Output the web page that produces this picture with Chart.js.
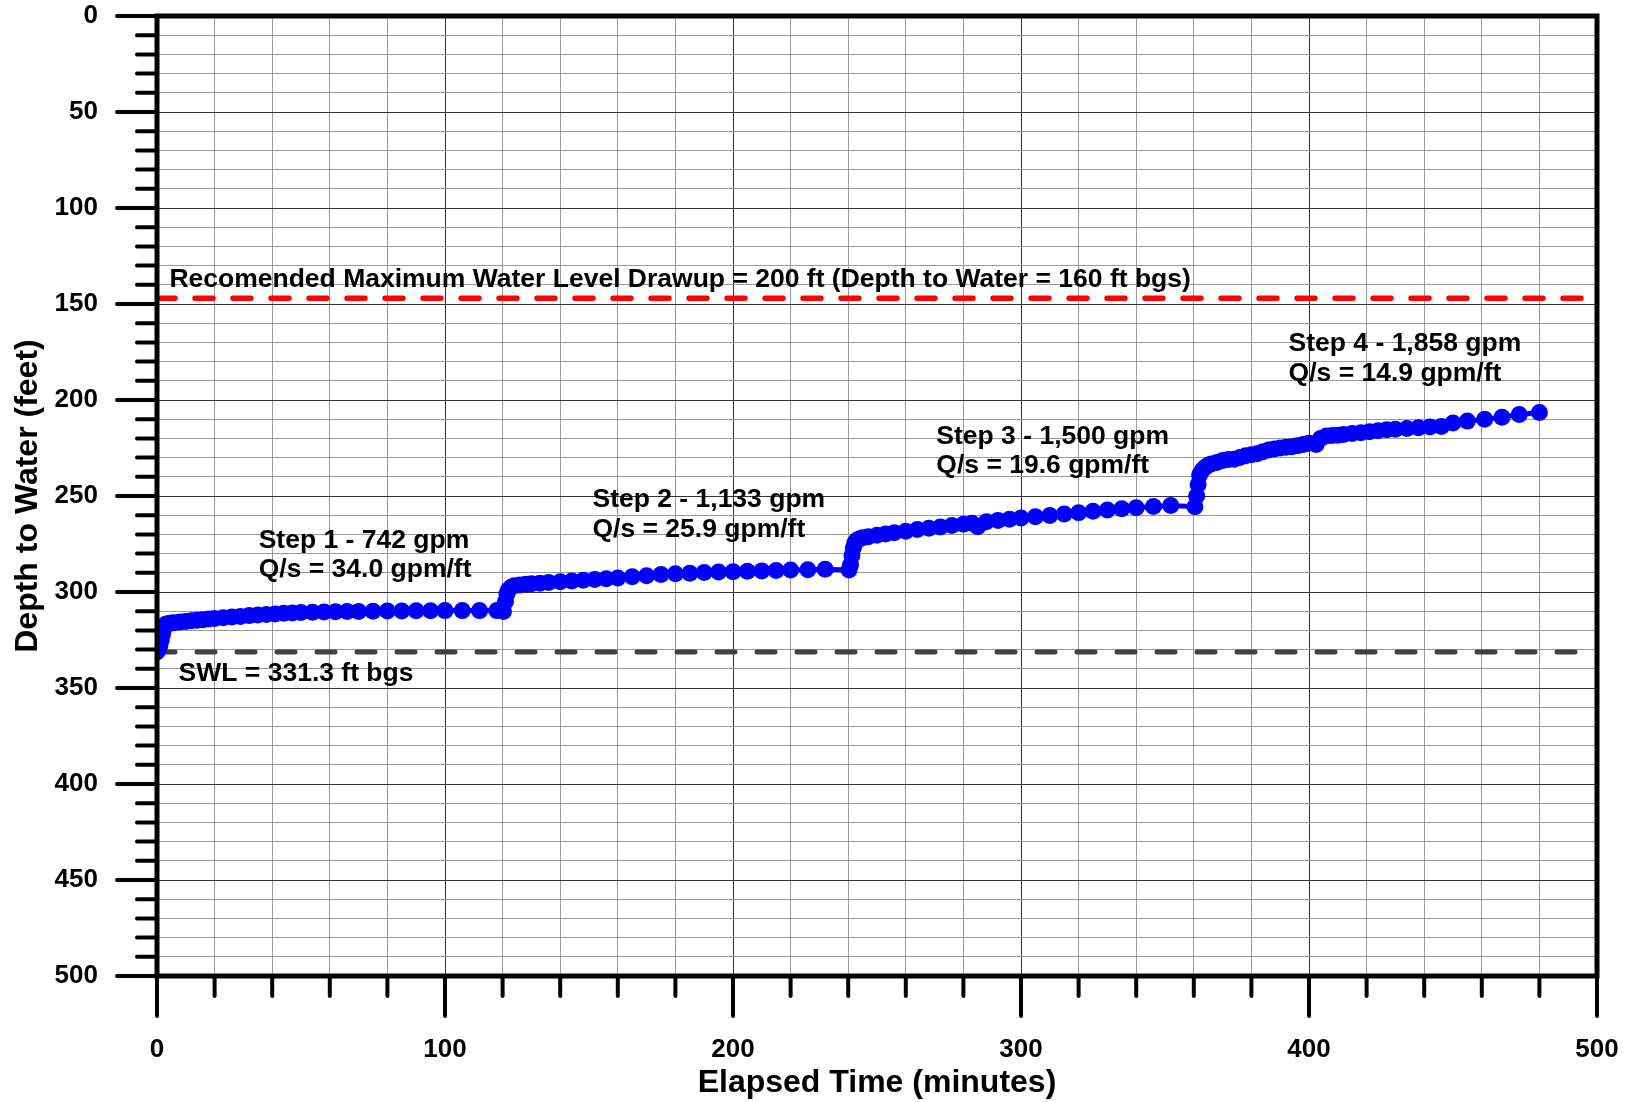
<!DOCTYPE html>
<html>
<head>
<meta charset="utf-8">
<script src="https://cdn.jsdelivr.net/npm/chart.js@4"></script>
<style>
  html, body { margin: 0; padding: 0; background: #fff; }
  #wrap { width: 1629px; height: 1102px; }
</style>
</head>
<body>
<div id="wrap"><canvas id="stepChart"></canvas></div>
<script>
// step drawdown test readings (elapsed minutes / depth to water in feet)
const step1Time  = [0, 0.5, 1, 1.5, 2, 2.5, 3, 4, 5, 6, 8, 10, 12, 14, 16, 18, 20, 23, 26, 29, 32, 35, 38, 41, 44, 47, 50, 54, 58, 62, 66, 70, 75, 80, 85, 90, 95, 100, 106, 112, 118, 120.3];
const step1Depth = [331.3, 330, 328, 325, 321.5, 318.5, 316.8, 316.4, 316.2, 316, 315.6, 315.3, 315, 314.7, 314.4, 314.1, 313.8, 313.4, 313, 312.7, 312.3, 312, 311.7, 311.4, 311.1, 310.9, 310.7, 310.5, 310.4, 310.3, 310.2, 310.1, 310, 309.9, 309.9, 309.8, 309.8, 309.7, 309.7, 309.7, 309.7, 310.2];

const step2Time  = [121, 121.5, 122, 123, 124, 126, 128, 130, 133, 136, 140, 144, 148, 152, 156, 160, 165, 170, 175, 180, 185, 190, 195, 200, 205, 210, 215, 220, 226, 232, 240.3];
const step2Depth = [305, 301, 299, 297.5, 296.8, 296.3, 296, 295.7, 295.4, 295.1, 294.7, 294.3, 293.9, 293.5, 293.1, 292.7, 292.1, 291.5, 290.9, 290.5, 290.2, 289.9, 289.6, 289.4, 289.2, 289, 288.8, 288.6, 288.4, 288.2, 288.5];

const step3Time  = [240.8, 241.3, 241.8, 242.3, 243, 244, 245, 247, 250, 253, 256, 260, 264, 268, 272, 276, 280, 283, 285, 288, 292, 296, 300, 305, 310, 315, 320, 325, 330, 335, 340, 346, 352, 360.4];
const step3Depth = [286, 281, 277, 274.5, 273, 272.3, 271.8, 271.2, 270.5, 269.8, 269.2, 268.3, 267.5, 266.8, 266.1, 265.4, 264.7, 264.2, 266, 263.4, 262.7, 262.1, 261.5, 260.8, 260.1, 259.4, 258.7, 258, 257.3, 256.7, 256.1, 255.5, 254.9, 255.6];

const step4Time  = [361, 361.5, 362, 363, 364, 365, 366, 368, 370, 372, 374, 376, 378, 380, 382, 384, 386, 388, 390, 392, 394, 396, 398, 400, 402.5, 404, 406, 408, 410, 412, 415, 418, 421, 424, 427, 430, 434, 438, 442, 446, 450, 455, 461, 467, 473, 480];
const step4Depth = [250, 244, 239, 236.5, 235, 234, 233.3, 232.5, 231.5, 231, 230.8, 230, 229, 228.5, 228, 227, 226, 225.5, 225, 224.6, 224.3, 223.8, 223.2, 222.5, 223.2, 220, 218.8, 218.5, 218.3, 218, 217.5, 217, 216.5, 216, 215.5, 215.2, 214.8, 214.4, 214, 213.8, 212, 211, 210, 209, 207.5, 206.5];

const staticWaterLevel = 331.3;
const maxDrawupLevel = 147;

const xRange = [0, 500];
const yRange = [0, 500];

// text notes: [label lines, minutes, feet]
const notes = [
    [['Recomended Maximum Water Level Drawup = 200 ft (Depth to Water = 160 ft bgs)'], 4.3, 137.2],
    [['Step 1 - 742 gpm', 'Q/s = 34.0 gpm/ft'], 35.3, 273.1],
    [['SWL = 331.3 ft bgs'], 7.5, 342.3],
    [['Step 2 - 1,133 gpm', 'Q/s = 25.9 gpm/ft'], 151.2, 252],
    [['Step 3 - 1,500 gpm', 'Q/s = 19.6 gpm/ft'], 270.6, 219],
    [['Step 4 - 1,858 gpm', 'Q/s = 14.9 gpm/ft'], 392.9, 170.8]
];

const FONT = '"Liberation Sans", Arial, sans-serif';

function toPoints(ts, ds) {
    return ts.map((t, i) => ({ x: t, y: ds[i] }));
}

const readings = []
    .concat(toPoints(step1Time, step1Depth))
    .concat(toPoints(step2Time, step2Depth))
    .concat(toPoints(step3Time, step3Depth))
    .concat(toPoints(step4Time, step4Depth));

// frame, tick marks and notes
const decorPlugin = {
    id: 'decor',
    afterDatasetsDraw(chart) {
        const ctx = chart.ctx;
        const xs = chart.scales.x, ys = chart.scales.y;
        const a = chart.chartArea;
        ctx.save();
        ctx.strokeStyle = '#000';
        ctx.lineCap = 'round';
        ctx.lineWidth = 4;
        for (let v = yRange[0]; v <= yRange[1]; v += 10) {
            const py = ys.getPixelForValue(v);
            const len = v % 50 === 0 ? 40 : 20;
            ctx.beginPath();
            ctx.moveTo(a.left - len, py);
            ctx.lineTo(a.left, py);
            ctx.stroke();
        }
        for (let v = xRange[0]; v <= xRange[1]; v += 20) {
            const px = xs.getPixelForValue(v);
            const len = v % 100 === 0 ? 40 : 20;
            ctx.beginPath();
            ctx.moveTo(px, a.bottom);
            ctx.lineTo(px, a.bottom + len);
            ctx.stroke();
        }
        ctx.lineWidth = 5;
        ctx.lineCap = 'square';
        ctx.strokeRect(a.left, a.top, a.right - a.left, a.bottom - a.top);

        ctx.fillStyle = '#000';
        ctx.font = 'bold 26.5px ' + FONT;
        ctx.textAlign = 'left';
        ctx.textBaseline = 'middle';
        notes.forEach(n => {
            const px = xs.getPixelForValue(n[1]);
            const py = ys.getPixelForValue(n[2]);
            n[0].forEach((line, i) => ctx.fillText(line, px, py + i * 29.5));
        });
        ctx.restore();
    }
};

// keep the label padding from pushing the plot area inward
function noEdgePadding(s) {
    s.paddingTop = 0;
    s.paddingBottom = 0;
    s.paddingLeft = 0;
    s.paddingRight = 0;
}

const ctx = document.getElementById('stepChart').getContext('2d');

const stepChart = new Chart(ctx, {
    type: 'scatter',
    data: {
        datasets: [
            {
                label: 'Depth to Water',
                data: readings,
                showLine: true,
                borderColor: '#0000ff',
                backgroundColor: '#0000ff',
                borderWidth: 5,
                pointRadius: 8.5,
                pointBorderWidth: 0,
                order: 0
            },
            {
                label: 'SWL',
                data: [{ x: xRange[0], y: staticWaterLevel }, { x: xRange[1], y: staticWaterLevel }],
                showLine: true,
                borderColor: '#404040',
                borderWidth: 5,
                borderDash: [18, 22],
                borderCapStyle: 'round',
                pointRadius: 0,
                order: 2
            },
            {
                label: 'Max drawup',
                data: [{ x: xRange[0], y: maxDrawupLevel }, { x: xRange[1], y: maxDrawupLevel }],
                showLine: true,
                borderColor: '#ff0000',
                borderWidth: 5.5,
                borderDash: [18, 20],
                borderCapStyle: 'round',
                pointRadius: 0,
                order: 2
            }
        ]
    },
    options: {
        responsive: true,
        maintainAspectRatio: false,
        animation: false,
        layout: {
            padding: { top: 16, right: 32, bottom: 0, left: 0 }
        },
        plugins: {
            legend: { display: false },
            tooltip: { enabled: false }
        },
        scales: {
            x: {
                type: 'linear',
                min: xRange[0],
                max: xRange[1],
                afterFit: s => { s.height = 126; noEdgePadding(s); },
                border: { display: false },
                grid: {
                    drawTicks: false,
                    color: c => (c.tick && c.tick.value % 100 === 0) ? '#333' : '#999',
                    lineWidth: 1
                },
                ticks: {
                    stepSize: 20,
                    autoSkip: false,
                    maxRotation: 0,
                    padding: 58,
                    color: '#000',
                    font: { family: FONT, size: 26, weight: 'bold' },
                    callback: v => (v % 100 === 0 ? String(v) : '')
                },
                title: {
                    display: true,
                    text: 'Elapsed Time (minutes)',
                    color: '#000',
                    font: { family: FONT, size: 32, weight: 'bold' },
                    padding: { top: 0, bottom: 0 }
                }
            },
            y: {
                type: 'linear',
                reverse: true,
                min: yRange[0],
                max: yRange[1],
                afterFit: s => { s.width = 157; noEdgePadding(s); },
                border: { display: false },
                grid: {
                    drawTicks: false,
                    color: c => (c.tick && c.tick.value % 50 === 0) ? '#333' : '#999',
                    lineWidth: 1
                },
                ticks: {
                    stepSize: 10,
                    autoSkip: false,
                    padding: 59,
                    color: '#000',
                    font: { family: FONT, size: 26, weight: 'bold' },
                    callback: v => (v % 50 === 0 ? String(v) : '')
                },
                title: {
                    display: true,
                    text: 'Depth to Water (feet)',
                    color: '#000',
                    font: { family: FONT, size: 32, weight: 'bold' },
                    padding: { top: 9, bottom: 0 }
                }
            }
        }
    },
    plugins: [decorPlugin]
});
</script>
</body>
</html>
